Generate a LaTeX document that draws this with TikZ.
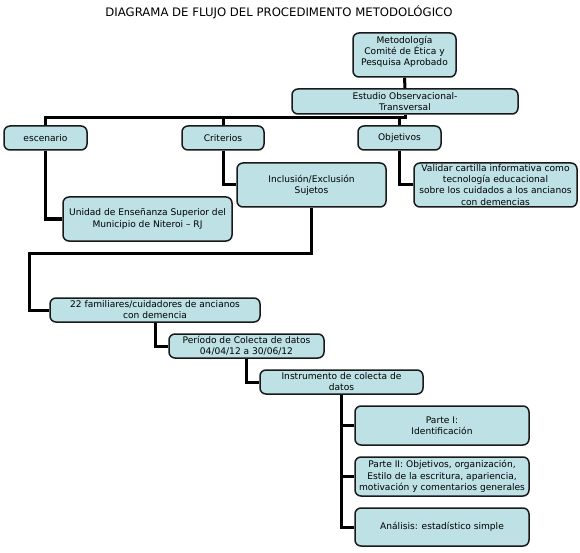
\documentclass[tikz,border=0pt]{standalone}
\usepackage{fontspec}
\setmainfont{DejaVu Sans}
\definecolor{boxfill}{RGB}{189,225,228}
\definecolor{boxline}{RGB}{25,25,25}
\begin{document}
\begin{tikzpicture}[x=1pt,y=-1pt,
  box/.style={draw=boxline, line width=1.5pt, fill=boxfill, rounded corners=6pt,
    inner sep=0pt, align=center, font=\fontsize{9.1}{11.2}\selectfont, text=black},
  conn/.style={line width=3pt, black}]
\useasboundingbox (0,0) rectangle (580,553);
\node[font=\fontsize{11.7}{14}\selectfont, text=black] (title) at (279,12) {DIAGRAMA DE FLUJO DEL PROCEDIMENTO METODOLÓGICO};
\coordinate (bus) at (405,118);
\coordinate (c1) at (29,253);
% boxes
\node[box, minimum width=103pt, minimum height=44pt] (meto) at (404.5,55) {Metodología\\Comité de Ética y\\Pesquisa Aprobado\\[-3pt]};
\node[box, minimum width=226pt, minimum height=25pt] (estudio) at (405,101.5) {Estudio Observacional-\\Transversal};
\node[box, minimum width=83pt, minimum height=24pt] (escenario) at (45.5,138) {escenario};
\node[box, minimum width=82pt, minimum height=24pt] (criterios) at (223,138) {Criterios};
\node[box, minimum width=83pt, minimum height=24pt] (objetivos) at (399.5,138) {Objetivos};
\node[box, minimum width=169pt, minimum height=44pt] (unidad) at (147.5,219) {Unidad de Enseñanza Superior del\\Municipio de Niteroi – RJ};
\node[box, minimum width=149pt, minimum height=44pt] (inclusion) at (311.5,185) {Inclusión/Exclusión\\Sujetos};
\node[box, minimum width=163pt, minimum height=44pt] (validar) at (495.5,185) {Validar cartilla informativa como\\tecnología educacional\\sobre los cuidados a los ancianos\\con demencias};
\node[box, minimum width=210pt, minimum height=24pt] (fam) at (155,310) {22 familiares/cuidadores de ancianos\\con demencia};
\node[box, minimum width=155pt, minimum height=24pt] (periodo) at (246.5,346) {Período de Colecta de datos\\04/04/12 a 30/06/12};
\node[box, minimum width=163pt, minimum height=24pt] (instr) at (341.5,382) {Instrumento de colecta de\\datos};
\node[box, minimum width=174pt, minimum height=39pt] (parte1) at (442,425.5) {Parte I:\\Identificación};
\node[box, minimum width=174pt, minimum height=39pt] (parte2) at (442,476.5) {Parte II: Objetivos, organización,\\Estilo de la escritura, apariencia,\\motivación y comentarios generales};
\node[box, minimum width=174pt, minimum height=38pt] (analisis) at (442,527) {Análisis: estadístico simple};
% connectors
\draw[conn] (meto.south) -- (estudio.north);
\draw[conn] (estudio.south) -- (bus) -| (escenario.north);
\draw[conn] (bus) -| (criterios.north);
\draw[conn] (bus) -| (objetivos.north);
\draw[conn] (escenario.south) |- (unidad.west);
\draw[conn] (criterios.south) |- (inclusion.west);
\draw[conn] (objetivos.south) |- (validar.west);
\draw[conn] (inclusion.south) |- (c1) |- (fam.west);
\draw[conn] (fam.south) |- (periodo.west);
\draw[conn] (periodo.south) |- (instr.west);
\draw[conn] (instr.south) |- (parte1.west);
\draw[conn] (instr.south) |- (parte2.west);
\draw[conn] (instr.south) |- (analisis.west);
\end{tikzpicture}
\end{document}
